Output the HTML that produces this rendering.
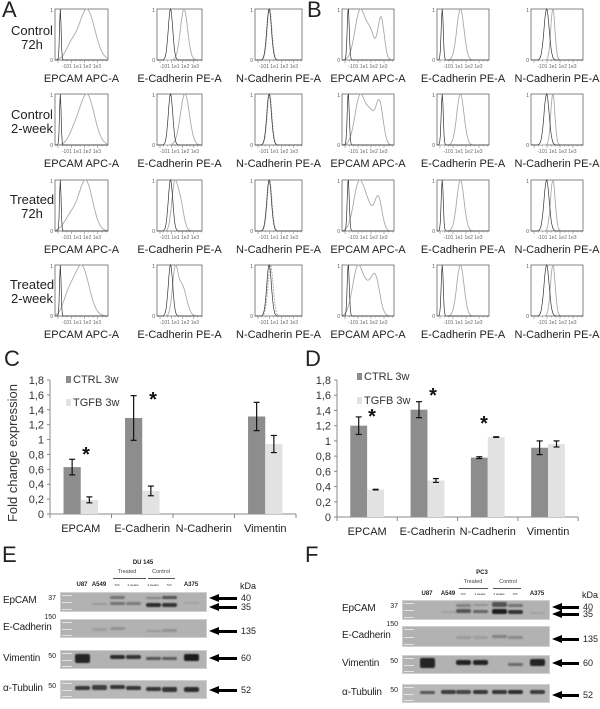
<!DOCTYPE html>
<html><head><meta charset="utf-8">
<style>
html,body{margin:0;padding:0;background:#fff;}
body{width:600px;height:709px;position:relative;overflow:hidden;font-family:"Liberation Sans",sans-serif;color:#222;}
.abs{position:absolute;}
.pl{position:absolute;font-size:22px;line-height:22px;}
.rl{position:absolute;font-size:13px;line-height:14px;text-align:center;width:60px;}
</style></head>
<body>
<div class="pl" style="left:2px;top:-1px">A</div>
<div class="pl" style="left:307px;top:-1px">B</div>
<div class="pl" style="left:4px;top:348px">C</div>
<div class="pl" style="left:305px;top:348px">D</div>
<div class="pl" style="left:2px;top:544px">E</div>
<div class="pl" style="left:305px;top:544px">F</div>

<div class="rl" style="left:2px;top:24px">Control<br>72h</div>
<div class="rl" style="left:2px;top:108px">Control<br>2-week</div>
<div class="rl" style="left:2px;top:193px">Treated<br>72h</div>
<div class="rl" style="left:2px;top:278px">Treated<br>2-week</div>

<svg id="hist" class="abs" style="left:0;top:0" width="600" height="345"></svg>
<svg id="bars" class="abs" style="left:0;top:345px" width="600" height="200"></svg>
<div id="blots" class="abs" style="left:0;top:0;width:600px;height:709px"></div>

<script>
// ---------- Flow histograms ----------
const hcols=[[55,53],[157,45],[255,47],[342,52],[437,52],[531,52]];
const hrows=[9,94,180,265];
const hlabels=["EPCAM APC-A","E-Cadherin PE-A","N-Cadherin PE-A"];
const blackSpec=[[0.1,0.015],[0.3,0.05],[0.3,0.05],[0.12,0.02],[0.1,0.02],[0.3,0.05]];
const greySpec=[
 [[[0.6,0.15,1],[0.3,0.1,0.25]],[[0.6,0.14,1],[0.35,0.1,0.2]],[[0.58,0.13,1],[0.3,0.12,0.3]],[[0.5,0.14,1],[0.25,0.1,0.35]]],
 [[[0.6,0.08,1]],[[0.62,0.1,1]],[[0.38,0.06,0.9],[0.5,0.08,0.8]],[[0.4,0.06,0.9],[0.55,0.1,0.7]]],
 [[[0.31,0.05,1]],[[0.31,0.05,1]],[[0.31,0.05,1]],[[0.33,0.055,1]]],
 [[[0.35,0.1,1],[0.75,0.06,0.85],[0.55,0.08,0.5]],[[0.35,0.1,1],[0.72,0.07,0.85],[0.55,0.08,0.55]],[[0.32,0.1,1],[0.7,0.07,0.7],[0.5,0.1,0.5]],[[0.3,0.1,1],[0.65,0.08,0.7],[0.5,0.1,0.5]]],
 [[[0.45,0.07,1]],[[0.45,0.07,1]],[[0.45,0.07,1]],[[0.45,0.07,1]]],
 [[[0.42,0.04,1]],[[0.42,0.04,1]],[[0.42,0.045,1]],[[0.42,0.045,1]]]
];
const NS="http://www.w3.org/2000/svg";
const H=document.getElementById('hist');
function mk(p,tag,at){const e=document.createElementNS(NS,tag);for(const k in at)e.setAttribute(k,at[k]);p.appendChild(e);return e;}
function curve(comps,x0,y0,w,h){
  let vals=[],mx=0;
  for(let i=0;i<=80;i++){const t=i/80;let v=0;for(const c of comps)v+=c[2]*Math.exp(-0.5*((t-c[0])/c[1])**2);vals.push(v);if(v>mx)mx=v;}
  return vals.map((v,i)=>(i?'L':'M')+(x0+w*i/80).toFixed(1)+','+(y0+h-h*v/mx).toFixed(1)).join('');
}
hcols.forEach((c,ci)=>{hrows.forEach((ry,ri)=>{
  const g=mk(H,'g',{});
  
  
  const [x,w]=c,h=51;
  mk(g,'rect',{x:x,y:ry,width:w,height:h,fill:'none',stroke:'#666','stroke-width':0.8});
  const gs=greySpec[ci][ri];
  mk(g,'path',{d:curve(gs,x,ry,w,h),fill:'none',stroke:'#aaa','stroke-width':0.9,'stroke-dasharray':(ci%3==2&&ci<3)?'2,1':'none'});
  const b=blackSpec[ci];
  mk(g,'path',{d:curve([[b[0],b[1],1]],x,ry,w,h),fill:'none',stroke:'#333','stroke-width':0.7});
  const t1=mk(g,'text',{x:x-2,y:ry+3,'font-size':5,'text-anchor':'end',fill:'#555'});t1.textContent='1';
  const t0=mk(g,'text',{x:x-2,y:ry+h+2,'font-size':5,'text-anchor':'end',fill:'#555'});t0.textContent='0';
  for(let k=0;k<12;k++)mk(g,'line',{x1:x+3+k*w/12,x2:x+3+k*w/12,y1:ry+h,y2:ry+h+(k%3?1.5:3),stroke:'#777','stroke-width':0.5});
  const tl=mk(g,'text',{x:x+w/2,y:ry+h+8,'font-size':5,'text-anchor':'middle',fill:'#666'});tl.textContent='-101   1e1  1e2  1e3';
  const lb=mk(g,'text',{x:x+w/2,y:ry+h+22,'font-size':11,'text-anchor':'middle',fill:'#222'});lb.textContent=hlabels[ci%3];
});});

// ---------- Bar charts ----------
const categories=["EPCAM","E-Cadherin","N-Cadherin","Vimentin"];
const yTicks=["0","0,2","0,4","0,6","0,8","1","1,2","1,4","1,6","1,8"];
const cCtrl=[0.63,1.29,0,1.31];
const cCtrlErr=[0.105,0.3,0,0.19];
const cTgfb=[0.19,0.31,0,0.94];
const cTgfbErr=[0.04,0.065,0,0.115];
const dCtrl=[1.2,1.41,0.78,0.91];
const dCtrlErr=[0.115,0.105,0.012,0.09];
const dTgfb=[0.36,0.48,1.05,0.96];
const dTgfbErr=[0.004,0.025,0.004,0.04];
const B=document.getElementById('bars');
function chart(id,ax,y0,y18,catW,ctrl,ce,tg,te,stars,legX,legY1,legY2,title){
  const off=-345;
  const ys=v=>y0+off-(v/1.8)*(y0-y18);
  const xs=i=>ax+i*catW;
  const g=mk(B,'g',{});
  
  
  mk(g,'line',{x1:ax,x2:ax,y1:ys(0),y2:ys(1.8),stroke:'#888','stroke-width':1});
  mk(g,'line',{x1:ax,x2:xs(4),y1:ys(0),y2:ys(0),stroke:'#888','stroke-width':1});
  yTicks.forEach((t,i)=>{const v=i*0.2;mk(g,'line',{x1:ax-3,x2:ax,y1:ys(v),y2:ys(v),stroke:'#888'});
    const tx=mk(g,'text',{x:ax-6,y:ys(v)+4,'font-size':11,'text-anchor':'end',fill:'#333'});tx.textContent=t;});
  categories.forEach((c,i)=>{mk(g,'line',{x1:xs(i),x2:xs(i),y1:ys(0),y2:ys(0)+4,stroke:'#888'});
    const tx=mk(g,'text',{x:xs(i)+catW/2,y:ys(0)+18,'font-size':11,'text-anchor':'middle',fill:'#222'});tx.textContent=c;});
  mk(g,'line',{x1:xs(4),x2:xs(4),y1:ys(0),y2:ys(0)+4,stroke:'#888'});
  const bw=catW*0.28,bo=catW*0.22;
  const drawBar=(i,v,e,dx,col,nm)=>{
    if(v<=0)return;
    const r=mk(g,'rect',{x:xs(i)+dx,y:ys(v),width:bw,height:ys(0)-ys(v),fill:col});
    
    
    const cx=xs(i)+dx+bw/2;
    mk(g,'line',{x1:cx,x2:cx,y1:ys(v+e),y2:ys(v-e),stroke:'#111','stroke-width':1.2});
    mk(g,'line',{x1:cx-3,x2:cx+3,y1:ys(v+e),y2:ys(v+e),stroke:'#111','stroke-width':1.2});
    mk(g,'line',{x1:cx-3,x2:cx+3,y1:ys(v-e),y2:ys(v-e),stroke:'#111','stroke-width':1.2});
  };
  ctrl.forEach((v,i)=>drawBar(i,v,ce[i],bo,'#8d8d8d','ctrl-bar'));
  tg.forEach((v,i)=>drawBar(i,v,te[i],bo+bw,'#e2e2e2','tgfb-bar'));
  stars.forEach(s=>{const st=mk(g,'text',{x:s[0],y:s[1]+off+8,'font-size':20,'font-weight':'bold','text-anchor':'middle',fill:'#111'});st.textContent='*';});
  mk(g,'rect',{x:legX,y:legY1+off-4,width:5,height:7,fill:'#8d8d8d'});
  const l1=mk(g,'text',{x:legX+7,y:legY1+off+3,'font-size':11,fill:'#333'});l1.textContent='CTRL 3w';
  mk(g,'rect',{x:legX,y:legY2+off-4,width:5,height:7,fill:'#e2e2e2'});
  const l2=mk(g,'text',{x:legX+7,y:legY2+off+3,'font-size':11,fill:'#333'});l2.textContent='TGFB 3w';
  if(title){const tt=mk(g,'text',{x:0,y:0,'font-size':13,'text-anchor':'middle',fill:'#333',transform:'translate(17,'+(453+off)+') rotate(-90)'});tt.textContent=title;}
}
chart('chart-c',50,514,380,61.5,cCtrl,cCtrlErr,cTgfb,cTgfbErr,[[86,453],[153,398]],66,380,403,'Fold change expression');
chart('chart-d',337,517,380,60.3,dCtrl,dCtrlErr,dTgfb,dTgfbErr,[[372,415],[433,394],[484,422]],357,377,401,null);

// ---------- Western blots ----------
const BL=document.getElementById('blots');
function el(tag,css,txt){const e=document.createElement(tag);e.style.cssText='position:absolute;'+css;if(txt!=null)e.textContent=txt;BL.appendChild(e);return e;}
function blot(p){
  const L=el('div','left:'+p.title[0]+'px;top:'+p.title[1]+'px;font-size:6px;font-weight:bold;transform:translateX(-50%)',p.title[2]);
  
  el('div','left:'+(p.tr[0]-12)+'px;top:'+p.tr[1]+'px;font-size:5.5px;color:#444;width:24px;text-align:center','Treated');
  el('div','left:'+p.trl[0]+'px;top:'+p.trl[2]+'px;width:'+(p.trl[1]-p.trl[0])+'px;height:0;border-top:0.7px solid #555');
  el('div','left:'+(p.co[0]-12)+'px;top:'+p.tr[1]+'px;font-size:5.5px;color:#444;width:24px;text-align:center','Control');
  el('div','left:'+p.col[0]+'px;top:'+p.trl[2]+'px;width:'+(p.col[1]-p.col[0])+'px;height:0;border-top:0.7px solid #555');
  const lanes=["U87","A549","72h","2 weeks","2 weeks","72h","A375"];
  lanes.forEach((ln,i)=>{const small=i>=2&&i<=5;el('div','left:'+(p.lanes[i]-12)+'px;top:'+(p.laneY-(small?3:4))+'px;width:24px;text-align:center;font-size:'+(small?'3px':'6px')+';font-weight:'+(small?'normal':'bold'),ln);});
  el('div','left:'+p.kda[0]+'px;top:'+(p.kda[1]-5)+'px;font-size:9px','kDa');
  const names=["EpCAM","E-Cadherin","Vimentin","α-Tubulin"],mk2=["37","150","50","50"];
  p.strips.forEach((s,k)=>{
    const st=el('div','left:'+p.sx[0]+'px;top:'+s[0]+'px;width:'+(p.sx[1]-p.sx[0])+'px;height:'+(s[1]-s[0])+'px;background:'+(k==3?'#b8b8b8':'#b2b2b2')+';overflow:hidden;box-sizing:border-box;border:1px solid #d0d0d0');
    
    const nm=el('div','left:'+p.lx+'px;top:'+((s[0]+s[1])/2-7)+'px;font-size:10px;letter-spacing:-0.2px',names[k]);
    
    el('div','left:'+(p.sx[0]-24)+'px;top:'+(s[0]+(k==1?-5:3))+'px;width:20px;text-align:right;font-size:7px',mk2[k]);
    for(let j=0;j<3;j++)el('div','left:'+(p.sx[0]+2)+'px;top:'+(s[0]+3+j*((s[1]-s[0]-6)/2))+'px;width:10px;height:1px;background:#eee;opacity:0.8');
    p.bands[k].forEach((b,i)=>{if(!b)return;const bx=p.lanes[i]-7;
      b.forEach(bb=>el('div','left:'+bx+'px;top:'+(s[0]+bb[0])+'px;width:15px;height:'+bb[1]+'px;background:rgba(20,20,20,'+bb[2]+');filter:blur(0.8px);border-radius:2px'));});
  });
  p.arrows.forEach(a=>{
    el('div','left:'+(p.ax[0]+8)+'px;top:'+(a[0]-1.5)+'px;width:'+(p.ax[1]-p.ax[0]-8)+'px;height:3px;background:#000');
    el('div','left:'+p.ax[0]+'px;top:'+(a[0]-4)+'px;width:0;height:0;border-top:4px solid transparent;border-bottom:4px solid transparent;border-right:10px solid #000');
    el('div','left:'+(p.ax[1]+4)+'px;top:'+(a[0]-5)+'px;font-size:9px',a[1]);
  });
}
blot({title:[143,560,"DU 145"],tr:[127,569],co:[161],trl:[113,146,578],col:[148,175],
  lanes:[82,99,117,133,153,169,191],laneY:586,kda:[240,586],lx:3,sx:[60,207],
  strips:[[592,612],[619,638],[650,669],[680,699]],
  bands:[
    [null,[[11,2,0.15]],[[4,3,0.4],[10,3,0.4]],[[10,3,0.35]],[[5,2,0.3],[11,4,0.85]],[[4,3,0.6],[11,4,0.8]],[[10,2,0.1]]],
    [null,[[9,3,0.12]],[[8,3,0.2]],null,[[11,2,0.15]],[[10,3,0.2]],null],
    [[[4,9,0.9]],null,[[5,4,0.85]],[[5,4,0.8]],[[7,3,0.6]],[[7,3,0.55]],[[4,7,0.95]]],
    [[[6,4,0.8]],[[5,5,0.75]],[[5,4,0.8]],[[6,4,0.8]],[[7,4,0.8]],[[7,5,0.8]],[[7,5,0.85]]]],
  ax:[209,237],arrows:[[598,"40"],[607,"35"],[631,"135"],[658,"60"],[690,"52"]]});
blot({title:[482,570,"PC3"],tr:[473,579],co:[508],trl:[459,488,588],col:[493,521],
  lanes:[427,448,463,480,499,515,537],laneY:595,kda:[582,595],lx:342,sx:[402,550],
  strips:[[600,620],[626,647],[655,674],[684,703]],
  bands:[
    [null,[[11,2,0.1]],[[4,3,0.3],[9,4,0.6]],[[4,2,0.2],[10,3,0.5]],[[2,5,0.6],[9,5,0.95]],[[4,3,0.4],[10,4,0.8]],[[12,2,0.1]]],
    [null,null,[[10,3,0.15]],[[10,3,0.12]],[[9,3,0.3]],[[10,3,0.25]],null],
    [[[3,10,0.9]],null,[[5,5,0.9]],[[5,5,0.9]],null,[[8,3,0.45]],[[4,7,0.9]]],
    [[[7,3,0.6]],[[6,4,0.75]],[[6,4,0.7]],[[6,4,0.8]],[[6,4,0.8]],[[6,4,0.85]],[[6,4,0.75]]]],
  ax:[552,579],arrows:[[607,"40"],[614,"35"],[639,"135"],[663,"60"],[695,"52"]]});
</script>
</body></html>
